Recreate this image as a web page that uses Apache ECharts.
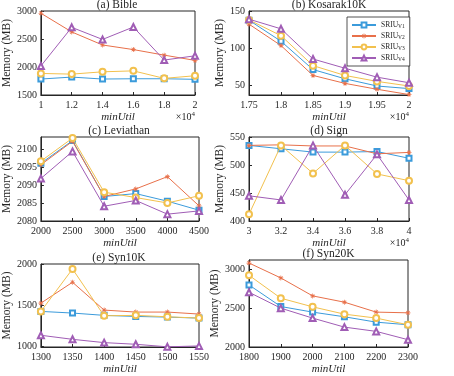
<!DOCTYPE html>
<html>
<head>
<meta charset="utf-8">
<script src="https://cdn.jsdelivr.net/npm/echarts@6/dist/echarts.min.js"></script>
<style>
  html, body { margin: 0; padding: 0; background: #fff; }
  #chart { width: 454px; height: 376px; }
</style>
</head>
<body>
<div id="chart"></div>
<script>
// values, one block per panel
const seriesNames = ['SRIU_V1', 'SRIU_V2', 'SRIU_V3', 'SRIU_V4'];
const panelTitles = ['(a) Bible', '(b) Kosarak10K', '(c) Leviathan', '(d) Sign', '(e) Syn10K', '(f) Syn20K'];

const bibleX = [10000, 12000, 14000, 16000, 18000, 20000];
const bibleV1 = [1785, 1820, 1785, 1790, 1790, 1780];
const bibleV2 = [2960, 2626, 2393, 2311, 2212, 2118];
const bibleV3 = [1885, 1873, 1914, 1931, 1797, 1844];
const bibleV4 = [2019, 2708, 2492, 2714, 2124, 2200];

const kosarakX = [17500, 18000, 18500, 19000, 19500, 20000];
const kosarakV1 = [137.6, 109.3, 71.2, 58.8, 49.1, 45.6];
const kosarakV2 = [132.3, 103.5, 63.3, 52.6, 44.7, 37.6];
const kosarakV3 = [138, 116.8, 76.5, 63.3, 55.3, 49.1];
const kosarakV4 = [139, 126, 85.4, 73, 61, 53.5];

const leviathanX = [2000, 2500, 3000, 3500, 4000, 4500];
const leviathanV1 = [2096.0, 2102.3, 2086.8, 2087.6, 2085.5, 2083.0];
const leviathanV2 = [2095.6, 2102.1, 2086.8, 2088.9, 2092.3, 2084.2];
const leviathanV3 = [2096.6, 2103.0, 2088.0, 2086.5, 2085.0, 2087.0];
const leviathanV4 = [2091.8, 2099.3, 2084.1, 2085.7, 2081.9, 2082.8];

const signX = [30000, 32000, 34000, 36000, 38000, 40000];
const signV1 = [535, 529, 523, 523, 524, 512];
const signV2 = [535, 536, 534, 534, 520, 522.5];
const signV3 = [412, 535, 485, 535, 484, 472];
const signV4 = [445, 437.6, 535, 447, 519, 437.6];

const syn10kX = [1300, 1350, 1400, 1450, 1500, 1550];
const syn10kV1 = [1426, 1406, 1378, 1365, 1357, 1345];
const syn10kV2 = [1526, 1779, 1442, 1418, 1418, 1394];
const syn10kV3 = [1426, 1940, 1373, 1378, 1361, 1345];
const syn10kV4 = [1137, 1088, 1048, 1028, 997, 1008];

const syn20kX = [1800, 1900, 2000, 2100, 2200, 2300];
const syn20kV1 = [2799, 2521, 2449, 2389, 2320, 2286];
const syn20kV2 = [3081, 2889, 2658, 2577, 2449, 2440];
const syn20kV3 = [2923, 2628, 2517, 2423, 2372, 2286];
const syn20kV4 = [2705, 2500, 2372, 2256, 2201, 2094];

const yTicksA = [1500, 2000, 2500, 3000];
const yTicksB = [50, 100, 150];
const yTicksC = [2080, 2085, 2090, 2095, 2100];
const yTicksD = [400, 450, 500, 550];
const yTicksE = [1000, 1500, 2000];
const yTicksF = [2000, 2500, 3000];

const panels = [
  { x: bibleX, ys: [bibleV1, bibleV2, bibleV3, bibleV4], xMin: 10000, xMax: 20000, xStep: 2000, sci: true, yMin: 1500, yMax: 3000, yTicks: yTicksA },
  { x: kosarakX, ys: [kosarakV1, kosarakV2, kosarakV3, kosarakV4], xMin: 17500, xMax: 20000, xStep: 500, sci: true, yMin: 37, yMax: 150, yTicks: yTicksB },
  { x: leviathanX, ys: [leviathanV1, leviathanV2, leviathanV3, leviathanV4], xMin: 2000, xMax: 4500, xStep: 500, sci: false, yMin: 2080, yMax: 2103.3, yTicks: yTicksC },
  { x: signX, ys: [signV1, signV2, signV3, signV4], xMin: 30000, xMax: 40000, xStep: 2000, sci: true, yMin: 400, yMax: 550, yTicks: yTicksD },
  { x: syn10kX, ys: [syn10kV1, syn10kV2, syn10kV3, syn10kV4], xMin: 1300, xMax: 1550, xStep: 50, sci: false, yMin: 995, yMax: 2000, yTicks: yTicksE },
  { x: syn20kX, ys: [syn20kV1, syn20kV2, syn20kV3, syn20kV4], xMin: 1800, xMax: 2300, xStep: 100, sci: false, yMin: 2000, yMax: 3120, yTicks: yTicksF }
];

// plot boxes, measured on the reference
const boxes = [
  { left: 39, top: 11, width: 156, height: 84 },
  { left: 249, top: 11, width: 160, height: 84 },
  { left: 39, top: 137, width: 160, height: 84 },
  { left: 249, top: 137, width: 160, height: 84 },
  { left: 39, top: 264, width: 160, height: 83 },
  { left: 249, top: 260, width: 159, height: 87 }
];

const colors = ['#3b9bdb', '#e8704a', '#f2c14e', '#a05db5'];
const asterisk = 'path://M-0.7,-5L0.7,-5L0.7,5L-0.7,5Z M-5,-0.7L5,-0.7L5,0.7L-5,0.7Z ' +
  'M-3.0,-4.0L4.0,3.0L3.0,4.0L-4.0,-3.0Z M3.0,-4.0L4.0,-3.0L-3.0,4.0L-4.0,3.0Z';
const symbols = ['emptyRect', asterisk, 'emptyCircle', 'emptyTriangle'];
const symbolSizes = [5, 5, 6, 6];
const ink = '#262626';
const font = 'Liberation Serif';

let grids = [], xAxes = [], yAxes = [], series = [], graphics = [];

panels.forEach(function(p, i) {
  let b = boxes[i];
  grids.push({
    left: b.left, top: b.top, width: b.width, height: b.height,
    show: true, borderColor: ink, borderWidth: 1, backgroundColor: '#fff'
  });
  xAxes.push({
    type: 'value',
    gridIndex: i,
    min: p.xMin,
    max: p.xMax,
    interval: p.xStep,
    name: 'minUtil',
    nameLocation: 'middle',
    nameGap: 17,
    nameTextStyle: { fontFamily: font, fontStyle: 'italic', fontSize: 11, color: ink },
    axisLine: { lineStyle: { color: ink } },
    axisTick: { inside: true, length: 3, lineStyle: { color: ink } },
    axisLabel: {
      fontFamily: font, fontSize: 10, color: ink, margin: 5,
      formatter: function(v) { return p.sci ? String(v / 10000) : String(v); }
    },
    splitLine: { show: false }
  });
  yAxes.push({
    type: 'value',
    gridIndex: i,
    min: p.yMin,
    max: p.yMax,
    name: 'Memory (MB)',
    nameLocation: 'middle',
    nameRotate: 90,
    nameGap: i % 2 === 0 ? 27 : 22,
    nameTextStyle: { fontFamily: font, fontSize: 11.5, color: ink },
    axisLine: { show: true, lineStyle: { color: ink } },
    axisTick: { show: true, inside: true, length: 3, customValues: p.yTicks, lineStyle: { color: ink } },
    axisLabel: {
      fontFamily: font, fontSize: 10, color: ink, margin: 4, customValues: p.yTicks,
      formatter: function(v) { return String(v); }
    },
    splitLine: { show: false }
  });
  p.ys.forEach(function(vals, k) {
    series.push({
      name: seriesNames[k],
      type: 'line',
      xAxisIndex: i,
      yAxisIndex: i,
      data: p.x.map(function(x, j) { return [x, vals[j]]; }),
      symbol: symbols[k],
      symbolSize: symbolSizes[k],
      color: colors[k],
      lineStyle: { width: 1 },
      itemStyle: { borderWidth: 0.8 },
      z: 2 + k,
      animation: false
    });
  });
  graphics.push({
    type: 'text',
    style: {
      text: panelTitles[i], x: b.left + b.width / 2, y: b.top - 6,
      textAlign: 'center', textVerticalAlign: 'middle',
      font: '11.5px "' + font + '"', fill: ink
    }
  });
  if (p.sci) {
    graphics.push({
      type: 'text',
      style: {
        text: '{a|×10}{b|4}', x: b.left + b.width, y: b.top + b.height + 22,
        textAlign: 'right', textVerticalAlign: 'middle',
        rich: {
          a: { fontFamily: font, fontSize: 10, fill: ink },
          b: { fontFamily: font, fontSize: 7, fill: ink, verticalAlign: 'top', padding: [0, 0, 6, 0] }
        }
      }
    });
  }
});

let option = {
  backgroundColor: '#fff',
  animation: false,
  grid: grids,
  xAxis: xAxes,
  yAxis: yAxes,
  series: series,
  graphic: graphics,
  legend: {
    data: seriesNames,
    orient: 'vertical',
    left: 347,
    top: 17,
    width: 60,
    padding: [4, 5, 3, 4],
    itemGap: 2,
    itemWidth: 24,
    itemHeight: 6,
    backgroundColor: '#fff',
    borderColor: ink,
    borderWidth: 0.8,
    borderRadius: 0,
    formatter: function(name) {
      return '{a|SRIU}{b|' + name.split('_')[1] + '}';
    },
    textStyle: {
      rich: {
        a: { fontFamily: font, fontSize: 7.5, color: ink },
        b: { fontFamily: font, fontSize: 5.5, color: ink, padding: [4, 0, 0, 0] }
      }
    }
  }
};

let chart = echarts.init(document.getElementById('chart'));
chart.setOption(option);
</script>
</body>
</html>
